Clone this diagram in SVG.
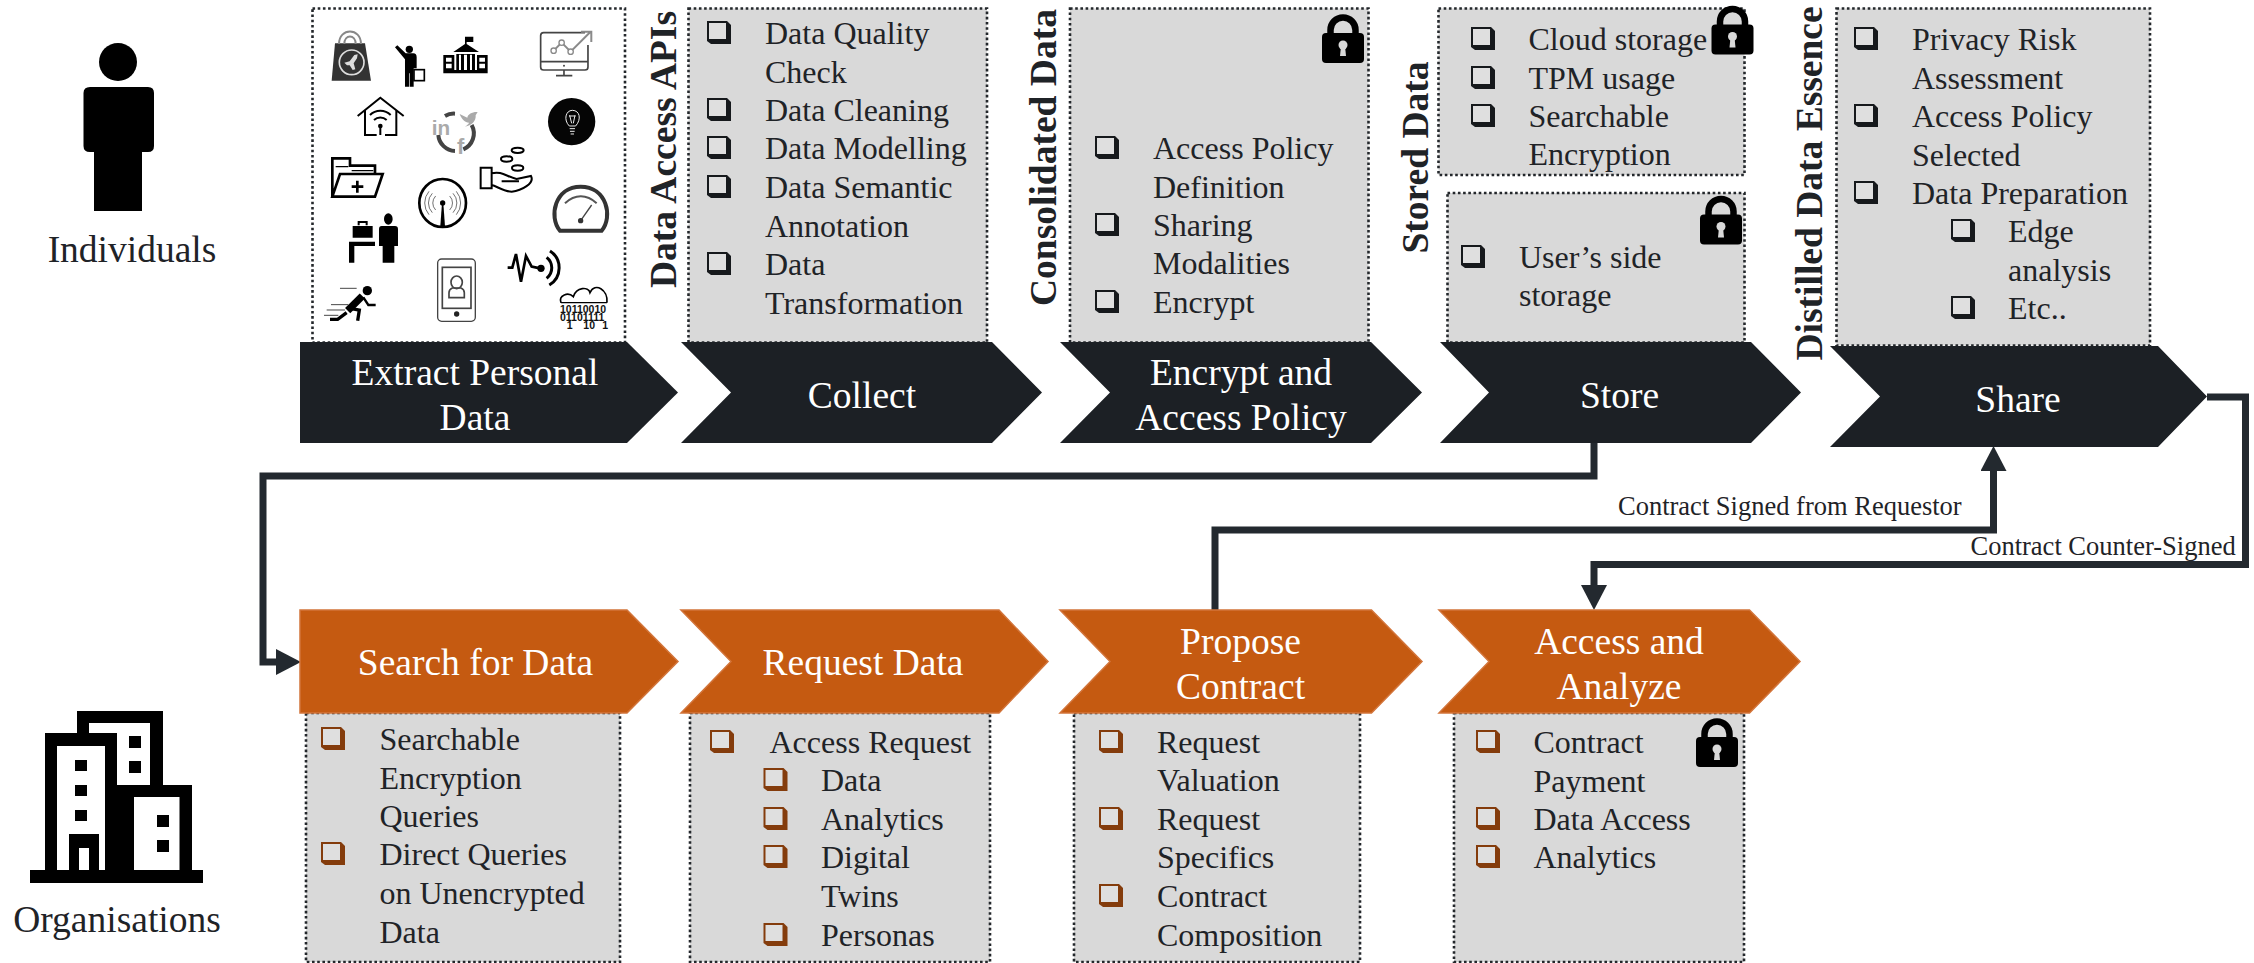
<svg xmlns="http://www.w3.org/2000/svg" width="2254" height="963" viewBox="0 0 2254 963">
<style>
text{font-family:"Liberation Serif","Times New Roman",serif}
.t{font-size:32px;fill:#1f2327;transform:translateY(.5px)}
.w{font-size:37.5px;fill:#fff;text-anchor:middle;transform:translateY(2px)}
.v{font-size:37.5px;font-weight:bold;fill:#1f2327}
.a{font-size:37.5px;fill:#1f2327;text-anchor:middle;transform:translateY(1.5px)}
.c{font-size:26.5px;fill:#1f2327;transform:translateY(.5px)}
.box{fill:#d9d9d9;stroke:#23272b;stroke-width:2.6;stroke-dasharray:2.6 2.6}
.open{fill:#fff}
.dk{fill:#1c2025}
.or{fill:#c55a11;stroke:#d2743a;stroke-width:1.5}
.bd{color:#16191c}
.br{color:#843c0c}
.cn{fill:none;stroke:#23292f;stroke-width:7}
.k{fill:#000}
.ln{fill:none;stroke:#000;stroke-width:6}
.ln8{fill:none;stroke:#000;stroke-width:8}
.thin{fill:none;stroke:#555;stroke-width:2.5}
.g5{fill:none;stroke:#444;stroke-width:5}
.soc{font-family:"Liberation Sans",Arial,sans-serif;font-weight:bold;fill:#aaa}
.bin{font-family:"Liberation Sans",Arial,sans-serif;font-weight:bold;font-size:31.5px;fill:#111}
</style>
<defs>
<marker id="ah" markerUnits="userSpaceOnUse" markerWidth="26" markerHeight="26" refX="0" refY="13" orient="auto" viewBox="0 0 26 26"><path d="M0,0 L25,13 L0,26Z" fill="#23292f"/></marker>
<g id="bu"><path d="M0,0H20L24,4V23H4L0,20Z" fill="currentColor"/><rect x="2" y="2" width="17" height="16" fill="#dfdfdf"/></g>
<g id="lock"><path d="M8.500,22V17A12.500,12.500 0 0 1 33.500,17V22" fill="none" stroke="#000" stroke-width="6.500"/><rect x="0" y="20" width="42" height="30" rx="4" fill="#000"/><circle cx="21" cy="32" r="4.500" fill="#d9d9d9"/><path d="M19,33H23L24,43H18Z" fill="#d9d9d9"/></g>
</defs>

<g id="actor-individuals">
<ellipse cx="118" cy="62" rx="19" ry="19" class="k"/>
<path class="k" d="M90,87H148Q154,87 154,93V146Q154,152 148,152H142V211H94V152H90Q83.500,152 83.500,146V93Q83.500,87 90,87Z"/>
<text class="a" x="132" y="260">Individuals</text>
</g>

<g id="actor-organisations">
<path class="k" fill-rule="evenodd" d="M30,870H45V733H77V711H163V785H192V870H203V883H30ZM57,746V870H69V834H99V870H105V746ZM89,723V733H117V785H150V723ZM134,797V870H179.500V797ZM79,848V870H89V848Z"/>
<rect class="k" x="75" y="760" width="12" height="11"/><rect class="k" x="75" y="785" width="12" height="11"/><rect class="k" x="75" y="810" width="12" height="11"/>
<rect class="k" x="129" y="736" width="12" height="12"/><rect class="k" x="129" y="761" width="12" height="12"/>
<rect class="k" x="157" y="815" width="12" height="12"/><rect class="k" x="157" y="840" width="12" height="12"/>
<text class="a" x="117" y="930">Organisations</text>
</g>

<g id="connectors">
<path class="cn" d="M1594,443V476H263V662H276" marker-end="url(#ah)"/>
<path class="cn" d="M1215,610V530H1993.500V471" marker-end="url(#ah)"/>
<path class="cn" d="M2207,397H2245.500V564.500H1594V585" marker-end="url(#ah)"/>
<text class="c" x="1618" y="514.500">Contract Signed from Requestor</text>
<text class="c" x="1970.500" y="554.500">Contract Counter-Signed</text>
</g>

<g id="node-extract">
<rect class="box open" x="312.500" y="8.500" width="312.500" height="334"/>
<g id="icons-top" transform="translate(315,20) scale(0.3333)">
<path fill="#333" d="M60,70H150L168,182H50Z"/>
<path d="M72,72C72,22 138,22 138,72M88,72C88,42 122,42 122,72" fill="none" stroke="#888" stroke-width="6"/>
<circle cx="110" cy="127" r="37" fill="none" stroke="#ddd" stroke-width="5"/>
<path d="M88,128L104,124L118,105L128,103L126,115L116,130L121,148L113,150L104,136L96,136Z" fill="#ddd"/>
<circle cx="283" cy="88" r="11" class="k"/>
<path class="k" d="M240,82L247,76L272,100H295Q305,100 305,112V145H296V200H284V160H282V200H270V118Z"/>
<rect x="297" y="149" width="31" height="33" fill="#fff" stroke="#000" stroke-width="5"/>
<path class="k" d="M450,50H475V66H455V72L492,96H415L450,72ZM385,105H418V160H385ZM486,105H518V160H486ZM424,102H480V150H488V160H416V150H424Z"/>
<path d="M393,113H410V125H393ZM393,131H410V145H393ZM493,113H510V125H493ZM493,131H510V145H493ZM432,104H438V150H432ZM447,104H456V150H447ZM465,104H471V150H465Z" fill="#fff"/>
<path d="M810,38H686Q677,38 677,47V141Q677,150 686,150H810Q819,150 819,141V75" class="g5" stroke-width="6"/>
<path d="M677,125H819M747,150V166M723,167H772" class="g5"/>
<circle cx="747" cy="137" r="3" fill="#444"/>
<path d="M716,92L740,68L767,95L826,36M798,35H829V66" fill="none" stroke="#8a8a8a" stroke-width="6"/>
<circle cx="716" cy="92" r="8" fill="#fff" stroke="#8a8a8a" stroke-width="4"/><circle cx="740" cy="68" r="8" fill="#fff" stroke="#8a8a8a" stroke-width="4"/><circle cx="767" cy="95" r="8" fill="#fff" stroke="#8a8a8a" stroke-width="4"/>
<path class="ln" d="M128,288L196,233L266,288M150,272V345H185M244,272V345H210"/>
<path class="ln" d="M165,285C182,268 210,268 227,285M177,300C188,290 204,290 215,300M196,318V345"/>
<circle cx="196" cy="318" r="7" class="k"/>
<path d="M390,288A52,52 0 0 1 420,281M470,315A52,52 0 0 1 445,388M420,393A52,52 0 0 1 370,345" fill="none" stroke="#444" stroke-width="12"/>
<text class="soc" x="350" y="345" font-size="62">in</text>
<text class="soc" x="426" y="402" font-size="66">f</text>
<path fill="#aaa" d="M434,282L457,293C459,282 472,275 488,276L482,286C484,302 470,318 450,320C458,315 462,310 462,308C450,308 440,298 434,282Z"/>
<circle cx="770" cy="305" r="71" fill="#050505"/>
<path d="M763,318C745,300 752,271 772,271C795,271 800,298 782,318Z M764,326H780M765,334H779M767,342H777M764,286L770,310M780,286L775,310M762,288H782" fill="none" stroke="#eee" stroke-width="3"/>
<ellipse cx="608" cy="391" rx="18" ry="8" class="ln"/><ellipse cx="575" cy="417" rx="17" ry="8" class="ln"/><ellipse cx="608" cy="444" rx="17" ry="8" class="ln"/>
<path class="ln" d="M497,443H530V505H497ZM530,460C560,452 575,470 605,477L648,468C660,490 620,512 590,515C565,515 545,498 530,495M560,484L612,484"/>
<path d="M52,530V415H105V437H180V460M52,530L75,462H203L180,530Z" fill="none" stroke="#000" stroke-width="8"/>
<path d="M62,440H100M110,452H175" fill="none" stroke="#000" stroke-width="4"/>
<path d="M127,482V518M110,500H145" fill="none" stroke="#000" stroke-width="8"/>
</g>
<g id="icons-bottom" transform="translate(315,170) scale(0.3333)">
<ellipse cx="383" cy="99" rx="70" ry="72" fill="none" stroke="#000" stroke-width="8"/>
<circle cx="383" cy="99" r="8" class="k"/><path class="k" d="M381,100H385L390,168H376Z"/>
<path class="thin" d="M362,78A30,30 0 0 0 362,120M352,70A42,42 0 0 0 352,128M342,64A54,54 0 0 0 342,134M404,78A30,30 0 0 1 404,120M414,70A42,42 0 0 1 414,128M424,64A54,54 0 0 1 424,134"/>
<path d="M735,182C700,140 720,50 797,50C875,50 895,140 860,182Z" fill="none" stroke="#333" stroke-width="12"/>
<path d="M750,100C780,72 815,72 845,100" fill="none" stroke="#555" stroke-width="6"/>
<path d="M797,152L830,105" stroke="#444" stroke-width="4"/><circle cx="797" cy="152" r="8" fill="#333"/>
<ellipse cx="220" cy="147" rx="13" ry="17" class="k"/>
<path class="k" d="M200,168H240Q249,168 249,178V228H238V278H203V228H192V178Q192,168 200,168Z"/>
<path class="k" d="M102,278V215H180V228H118V278ZM113,168H173V203H113Z"/>
<path d="M131,166V156H155V166" fill="none" stroke="#000" stroke-width="6"/>
<rect x="368" y="267" width="113" height="187" rx="12" fill="none" stroke="#444" stroke-width="4"/>
<rect x="382" y="292" width="86" height="123" fill="none" stroke="#444" stroke-width="5"/>
<ellipse cx="425" cy="337" rx="17" ry="19" class="g5"/>
<path d="M402,383V368Q402,358 412,354H438Q448,358 448,368V383Z" class="g5"/>
<circle cx="425" cy="432" r="8" fill="#222"/>
<path class="ln8" d="M578,293H592L603,252L618,335L633,258L650,290L675,295"/>
<circle cx="678" cy="295" r="11" class="k"/>
<path d="M695,262A40,40 0 0 1 695,325M705,243A60,60 0 0 1 703,345" fill="none" stroke="#000" stroke-width="9"/>
<path d="M738,398C730,375 760,365 775,380C785,350 820,350 825,368C840,335 880,360 876,398" fill="none" stroke="#000" stroke-width="5"/>
<path class="k" d="M738,396H876V400H738Z"/>
<text class="bin" x="735" y="428">10110010</text>
<text class="bin" x="735" y="453">01101111</text>
<text class="bin" x="755" y="478">1<tspan x="805">10</tspan><tspan x="862">1</tspan></text>
<circle cx="157" cy="362" r="14" class="k"/>
<path d="M142,378L98,422" stroke="#000" stroke-width="22"/>
<path d="M145,382L160,405H182" fill="none" stroke="#000" stroke-width="7"/>
<path d="M105,415L133,420L128,452M95,428L68,448H45" fill="none" stroke="#000" stroke-width="10"/>
<path d="M75,355H125M48,404H100M35,420H90M27,436H70" fill="none" stroke="#222" stroke-width="2.500"/>
</g>
<polygon class="dk" points="300,342 627,342 678,392.500 627,443 300,443"/>
<text class="w" x="475" y="383">Extract Personal</text>
<text class="w" x="475" y="428">Data</text>
</g>

<g id="node-collect">
<text class="v" transform="translate(676,288) rotate(-90)">Data Access APIs</text>
<rect class="box" x="688.500" y="8.500" width="298.500" height="334"/>
<g class="bd"><use href="#bu" x="707" y="21"/><use href="#bu" x="707" y="98"/><use href="#bu" x="707" y="136"/><use href="#bu" x="707" y="175"/><use href="#bu" x="707" y="252"/></g>
<text class="t" x="765" y="43">Data Quality</text>
<text class="t" x="765" y="82">Check</text>
<text class="t" x="765" y="120">Data Cleaning</text>
<text class="t" x="765" y="158">Data Modelling</text>
<text class="t" x="765" y="197">Data Semantic</text>
<text class="t" x="765" y="236">Annotation</text>
<text class="t" x="765" y="274">Data</text>
<text class="t" x="765" y="313">Transformation</text>
<polygon class="dk" points="681,342 992,342 1042,392.500 992,443 681,443 731,392.500"/>
<text class="w" x="862" y="406">Collect</text>
</g>

<g id="node-encrypt">
<text class="v" transform="translate(1056,306) rotate(-90)">Consolidated Data</text>
<rect class="box" x="1070" y="8.500" width="298.500" height="334"/>
<use href="#lock" x="1322" y="13"/>
<g class="bd"><use href="#bu" x="1095" y="136"/><use href="#bu" x="1095" y="213"/><use href="#bu" x="1095" y="290"/></g>
<text class="t" x="1153" y="158">Access Policy</text>
<text class="t" x="1153" y="197">Definition</text>
<text class="t" x="1153" y="235">Sharing</text>
<text class="t" x="1153" y="273">Modalities</text>
<text class="t" x="1153" y="312">Encrypt</text>
<polygon class="dk" points="1060,342 1371,342 1422,392.500 1371,443 1060,443 1110,392.500"/>
<text class="w" x="1241" y="383">Encrypt and</text>
<text class="w" x="1241" y="428">Access Policy</text>
</g>

<g id="node-store">
<text class="v" transform="translate(1428,253.500) rotate(-90)">Stored Data</text>
<rect class="box" x="1438.500" y="8.500" width="306" height="166.500"/>
<rect class="box" x="1447.500" y="193" width="297" height="149.500"/>
<use href="#lock" x="1711.500" y="4.500"/>
<use href="#lock" x="1700" y="194.500"/>
<g class="bd"><use href="#bu" x="1471" y="27"/><use href="#bu" x="1471" y="66"/><use href="#bu" x="1471" y="104"/><use href="#bu" x="1461" y="245"/></g>
<text class="t" x="1528.500" y="49.500">Cloud storage</text>
<text class="t" x="1528.500" y="88">TPM usage</text>
<text class="t" x="1528.500" y="126.500">Searchable</text>
<text class="t" x="1528.500" y="164.500">Encryption</text>
<text class="t" x="1519" y="267">User’s side</text>
<text class="t" x="1519" y="305.500">storage</text>
<polygon class="dk" points="1440,342 1751,342 1801,392.500 1751,443 1440,443 1489,392.500"/>
<text class="w" x="1619.500" y="406">Store</text>
</g>

<g id="node-share">
<text class="v" transform="translate(1821.500,360.500) rotate(-90)">Distilled Data Essence</text>
<rect class="box" x="1836.500" y="8.500" width="313.500" height="337"/>
<g class="bd"><use href="#bu" x="1854" y="27"/><use href="#bu" x="1854" y="104"/><use href="#bu" x="1854" y="181"/><use href="#bu" x="1951" y="219"/><use href="#bu" x="1951" y="296"/></g>
<text class="t" x="1912" y="49.500">Privacy Risk</text>
<text class="t" x="1912" y="88">Assessment</text>
<text class="t" x="1912" y="126.500">Access Policy</text>
<text class="t" x="1912" y="165">Selected</text>
<text class="t" x="1912" y="203.500">Data Preparation</text>
<text class="t" x="2008" y="241">Edge</text>
<text class="t" x="2008" y="280">analysis</text>
<text class="t" x="2008" y="318">Etc..</text>
<polygon class="dk" points="1830,346 2158,346 2207,396.500 2158,447 1830,447 1880,396.500"/>
<text class="w" x="2018" y="410">Share</text>
</g>

<g id="node-search">
<rect class="box" x="306" y="713" width="314" height="249"/>
<g class="br"><use href="#bu" x="321" y="727"/><use href="#bu" x="321" y="842"/></g>
<text class="t" x="379.500" y="749">Searchable</text>
<text class="t" x="379.500" y="788">Encryption</text>
<text class="t" x="379.500" y="826">Queries</text>
<text class="t" x="379.500" y="864">Direct Queries</text>
<text class="t" x="379.500" y="903">on Unencrypted</text>
<text class="t" x="379.500" y="942">Data</text>
<polygon class="or" points="300,610 627,610 678,661.500 627,713 300,713"/>
<text class="w" x="475.500" y="673">Search for Data</text>
</g>

<g id="node-request">
<rect class="box" x="690" y="713" width="300" height="249"/>
<g class="br"><use href="#bu" x="710" y="730"/><use href="#bu" x="763.500" y="768"/><use href="#bu" x="763.500" y="807"/><use href="#bu" x="763.500" y="845"/><use href="#bu" x="763.500" y="923"/></g>
<text class="t" x="769.500" y="752.500">Access Request</text>
<text class="t" x="821" y="790.500">Data</text>
<text class="t" x="821" y="829.500">Analytics</text>
<text class="t" x="821" y="867">Digital</text>
<text class="t" x="821" y="906">Twins</text>
<text class="t" x="821" y="945">Personas</text>
<polygon class="or" points="681,610 999,610 1048,661.500 999,713 681,713 731,661.500"/>
<text class="w" x="863" y="673">Request Data</text>
</g>

<g id="node-propose">
<rect class="box" x="1074" y="713" width="286" height="249"/>
<g class="br"><use href="#bu" x="1099" y="730"/><use href="#bu" x="1099" y="807"/><use href="#bu" x="1099" y="884"/></g>
<text class="t" x="1157" y="752">Request</text>
<text class="t" x="1157" y="790">Valuation</text>
<text class="t" x="1157" y="829">Request</text>
<text class="t" x="1157" y="867">Specifics</text>
<text class="t" x="1157" y="906">Contract</text>
<text class="t" x="1157" y="945">Composition</text>
<polygon class="or" points="1060,610 1371.500,610 1422,661.500 1371.500,713 1060,713 1110,661.500"/>
<text class="w" x="1240.500" y="651.500">Propose</text>
<text class="w" x="1240.500" y="696.500">Contract</text>
</g>

<g id="node-access">
<rect class="box" x="1454" y="713" width="290" height="249"/>
<use href="#lock" x="1696" y="717"/>
<g class="br"><use href="#bu" x="1476" y="730"/><use href="#bu" x="1476" y="807"/><use href="#bu" x="1476" y="845"/></g>
<text class="t" x="1533.500" y="752">Contract</text>
<text class="t" x="1533.500" y="791">Payment</text>
<text class="t" x="1533.500" y="829.500">Data Access</text>
<text class="t" x="1533.500" y="867">Analytics</text>
<polygon class="or" points="1439,610 1749.500,610 1800,661.500 1749.500,713 1439,713 1489,661.500"/>
<text class="w" x="1619" y="651.500">Access and</text>
<text class="w" x="1619" y="696.500">Analyze</text>
</g>
</svg>
